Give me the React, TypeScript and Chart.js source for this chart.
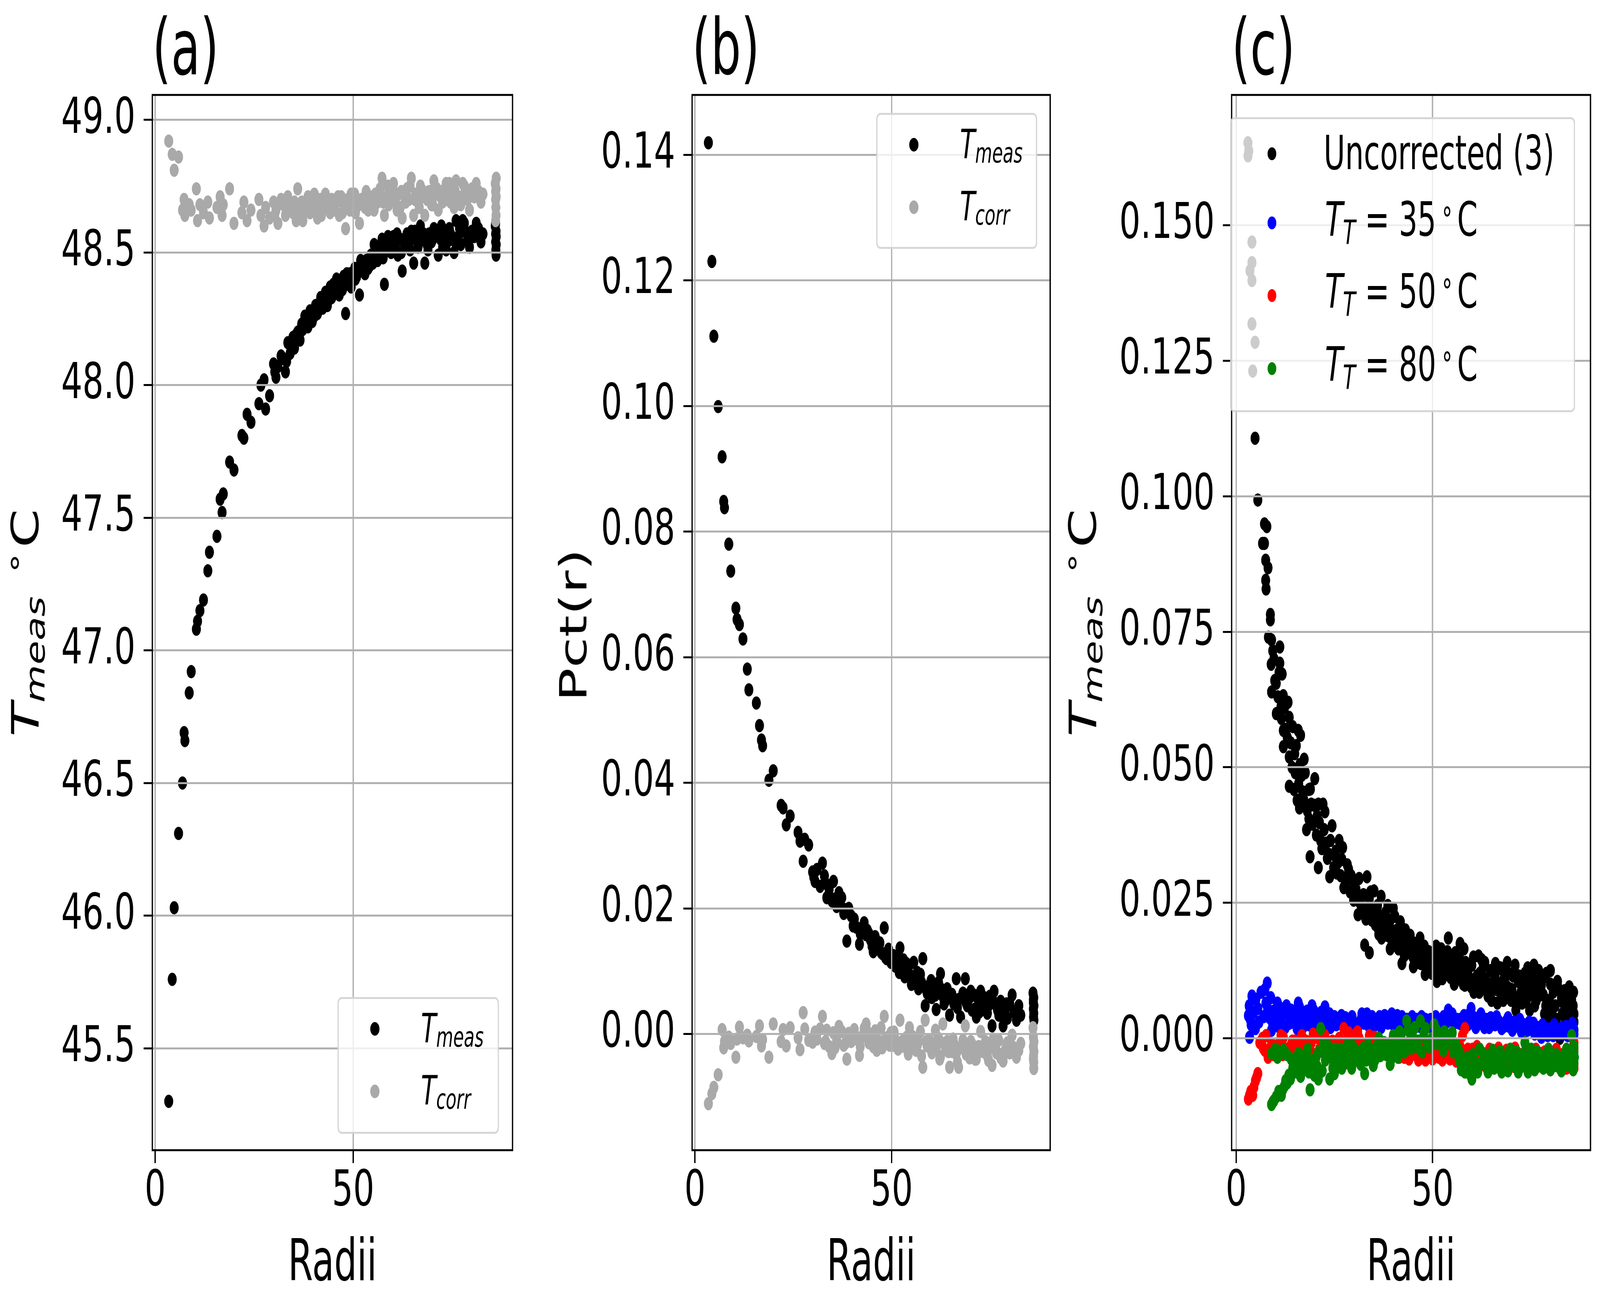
import React, { useEffect, useRef } from "react";
import { Chart, registerables } from "chart.js";

Chart.register(...registerables);

const FONT = "'DejaVu Sans', sans-serif";

// ---------------- tick values ----------------
const xTicks = [0, 50];
const aYTicks = [45.5, 46.0, 46.5, 47.0, 47.5, 48.0, 48.5, 49.0];
const bYTicks = [0, 0.02, 0.04, 0.06, 0.08, 0.1, 0.12, 0.14];
const cYTicks = [0, 0.025, 0.05, 0.075, 0.1, 0.125, 0.15];

// ---------------- panels (a) & (b): shared radii ----------------
const radii = [
  3.42, 4.3, 4.8, 5.9, 6.9, 7.3, 7.5, 8.6, 9.1, 10.4,
  10.7, 11.3, 12.2, 13.3, 13.7, 15.6, 16.4, 16.9, 17.2, 18.8,
  19.9, 21.9, 22.4, 23.2, 24.2, 26.2, 26.7, 27.5, 27.9, 28.9,
  29.9, 30.5, 31.0, 32.4, 32.9, 33.5, 34.1, 34.8, 35.2, 36.0,
  36.6, 37.3, 37.8, 38.6, 39.1, 39.7, 40.5, 41.0, 41.8, 42.3,
  43.0, 43.5, 44.2, 44.6, 45.3, 45.8, 46.5, 47.0, 47.6, 48.1,
  48.7, 49.2, 49.8, 50.4, 50.9, 51.6, 52.1, 52.7, 53.3, 53.8,
  54.5, 55.0, 55.6, 56.2, 56.8, 57.3, 57.9, 58.5, 59.0, 59.6,
  60.2, 60.7, 61.3, 61.9, 62.4, 63.0, 63.6, 64.1, 64.7, 65.3,
  65.8, 66.4, 67.0, 67.5, 68.1, 68.7, 69.2, 69.8, 70.4, 70.9,
  71.5, 72.1, 72.6, 73.2, 73.8, 74.3, 74.9, 75.5, 76.0, 76.6,
  77.2, 77.7, 78.3, 78.9, 79.4, 80.0, 80.6, 81.1, 81.7, 82.3,
  82.8, 85.9, 86.0, 86.0, 86.05, 86.1, 86.1, 86.14, 86.14, 86.0,
  30.2, 31.8, 33.2, 35.6, 37.0, 38.2, 40.2, 42.0, 43.8, 45.0,
  46.2, 47.3, 48.4, 49.5, 50.6, 51.9, 53.0, 54.2, 55.3, 56.5,
  57.6, 58.8, 60.0, 61.1, 62.2, 63.3, 64.4, 65.6, 66.7, 67.8,
  68.9, 70.1, 71.2, 72.3, 73.5, 74.6, 75.8, 76.9, 78.1, 79.2,
];

const aMeas = [
  45.30, 45.76, 46.03, 46.31, 46.50, 46.69, 46.66, 46.84, 46.92, 47.08,
  47.11, 47.15, 47.19, 47.30, 47.37, 47.43, 47.57, 47.52, 47.59, 47.71,
  47.68, 47.81, 47.80, 47.89, 47.86, 47.93, 48.00, 48.02, 47.91, 47.96,
  48.08, 48.03, 48.07, 48.10, 48.05, 48.16, 48.12, 48.18, 48.14, 48.20,
  48.17, 48.21, 48.26, 48.22, 48.28, 48.24, 48.30, 48.27, 48.33, 48.29,
  48.35, 48.30, 48.37, 48.33, 48.36, 48.40, 48.34, 48.39, 48.41, 48.27,
  48.38, 48.42, 48.40, 48.44, 48.41, 48.34, 48.45, 48.43, 48.47, 48.44,
  48.49, 48.46, 48.50, 48.47, 48.52, 48.55, 48.38, 48.51, 48.54, 48.50,
  48.56, 48.53, 48.49, 48.55, 48.43, 48.52, 48.57, 48.54, 48.58, 48.46,
  48.55, 48.52, 48.60, 48.56, 48.46, 48.53, 48.57, 48.54, 48.59, 48.58,
  48.49, 48.55, 48.52, 48.57, 48.54, 48.59, 48.55, 48.50, 48.62, 48.56,
  48.53, 48.62, 48.58, 48.55, 48.52, 48.58, 48.56, 48.61, 48.59, 48.54,
  48.57, 48.60, 48.57, 48.54, 48.51, 48.58, 48.49, 48.56, 48.53, 48.61,
  48.05, 48.11, 48.09, 48.19, 48.23, 48.25, 48.26, 48.31, 48.32, 48.38,
  48.37, 48.36, 48.42, 48.37, 48.40, 48.47, 48.42, 48.45, 48.53, 48.50,
  48.48, 48.56, 48.52, 48.57, 48.50, 48.55, 48.51, 48.58, 48.54, 48.57,
  48.51, 48.55, 48.58, 48.60, 48.51, 48.57, 48.54, 48.59, 48.61, 48.56,
];

const aCorr = [
  48.92, 48.87, 48.81, 48.86, 48.66, 48.70, 48.64, 48.68, 48.66, 48.74,
  48.62, 48.68, 48.65, 48.69, 48.63, 48.67, 48.71, 48.64, 48.68, 48.74,
  48.61, 48.65, 48.69, 48.62, 48.66, 48.70, 48.64, 48.60, 48.67, 48.63,
  48.69, 48.66, 48.61, 48.68, 48.64, 48.71, 48.67, 48.65, 48.69, 48.74,
  48.66, 48.62, 48.68, 48.71, 48.65, 48.69, 48.67, 48.63, 48.70, 48.66,
  48.72, 48.68, 48.65, 48.70, 48.67, 48.69, 48.64, 48.71, 48.68, 48.59,
  48.70, 48.66, 48.69, 48.72, 48.67, 48.61, 48.70, 48.68, 48.73, 48.66,
  48.70, 48.67, 48.72, 48.69, 48.74, 48.78, 48.64, 48.71, 48.68, 48.73,
  48.76, 48.69, 48.72, 48.67, 48.63, 48.71, 48.74, 48.70, 48.78, 48.64,
  48.72, 48.69, 48.75, 48.71, 48.64, 48.70, 48.73, 48.68, 48.77, 48.72,
  48.66, 48.71, 48.69, 48.74, 48.70, 48.76, 48.72, 48.67, 48.77, 48.71,
  48.68, 48.76, 48.73, 48.70, 48.66, 48.74, 48.71, 48.76, 48.73, 48.69,
  48.72, 48.76, 48.73, 48.70, 48.67, 48.74, 48.64, 48.71, 48.78, 48.62,
  48.64, 48.70, 48.66, 48.62, 48.69, 48.66, 48.72, 48.64, 48.69, 48.66,
  48.71, 48.65, 48.68, 48.72, 48.65, 48.69, 48.67, 48.71, 48.66, 48.72,
  48.69, 48.75, 48.70, 48.66, 48.73, 48.69, 48.75, 48.70, 48.67, 48.73,
  48.70, 48.68, 48.74, 48.71, 48.76, 48.69, 48.73, 48.70, 48.75, 48.72,
];

const bMeas = [
  0.1419, 0.1230, 0.1111, 0.0999, 0.0919, 0.0848, 0.0838, 0.0780, 0.0737, 0.0678,
  0.0660, 0.0652, 0.0629, 0.0581, 0.0548, 0.0527, 0.0491, 0.0468, 0.0459, 0.0404,
  0.0419, 0.0364, 0.0360, 0.0333, 0.0347, 0.0321, 0.0307, 0.0275, 0.0310, 0.0301,
  0.0258, 0.0243, 0.0262, 0.0272, 0.0252, 0.0217, 0.0230, 0.0212, 0.0243, 0.0203,
  0.0225, 0.0217, 0.0192, 0.0148, 0.0200, 0.0188, 0.0183, 0.0170, 0.0143, 0.0168,
  0.0177, 0.0158, 0.0160, 0.0150, 0.0131, 0.0155, 0.0137, 0.0145, 0.0128, 0.0169,
  0.0120, 0.0135, 0.0114, 0.0125, 0.0108, 0.0118, 0.0137, 0.0100, 0.0091, 0.0112,
  0.0095, 0.0079, 0.0114, 0.0088, 0.0072, 0.0095, 0.0120, 0.0045, 0.0065, 0.0078,
  0.0058, 0.0068, 0.0039, 0.0082, 0.0096, 0.0060, 0.0052, 0.0072, 0.0030, 0.0063,
  0.0048, 0.0088, 0.0055, 0.0027, 0.0065, 0.0088, 0.0045, 0.0058, 0.0038, 0.0062,
  0.0027, 0.0050, 0.0068, 0.0042, 0.0055, 0.0033, 0.0060, 0.0013, 0.0068, 0.0045,
  0.0030, 0.0052, 0.0013, 0.0040, 0.0025, 0.0048, 0.0062, 0.0035, 0.0022, 0.0045,
  0.0030, 0.0065, 0.0050, 0.0040, 0.0027, 0.0058, 0.0033, 0.0045, 0.0022, 0.0055,
  0.0250, 0.0235, 0.0240, 0.0215, 0.0205, 0.0198, 0.0172, 0.0160, 0.0165, 0.0140,
  0.0148, 0.0130, 0.0122, 0.0128, 0.0112, 0.0098, 0.0118, 0.0105, 0.0088, 0.0098,
  0.0082, 0.0070, 0.0085, 0.0062, 0.0075, 0.0048, 0.0065, 0.0055, 0.0042, 0.0058,
  0.0050, 0.0068, 0.0040, 0.0035, 0.0058, 0.0045, 0.0052, 0.0038, 0.0030, 0.0048,
];

const bCorr = [
  -0.0111, -0.0095, -0.0085, -0.0065, 0.0007, -0.0022, -0.0012, -0.0005, -0.0015, -0.0037,
  -0.0008, 0.0011, -0.0006, -0.0002, -0.0011, -0.0004, 0.0013, -0.0019, -0.0009, -0.0037,
  0.0016, -0.0012, 0.0007, -0.0019, 0.0010, -0.0006, -0.0025, 0.0034, 0.0008, -0.0010,
  -0.0013, 0.0003, -0.0008, 0.0028, -0.0015, 0.0006, -0.0020, -0.0031, 0.0002, -0.0010,
  0.0012, 0.0004, -0.0018, -0.0040, 0.0001, -0.0012, 0.0007, -0.0008, -0.0034, -0.0005,
  0.0009, 0.0016, -0.0014, -0.0003, -0.0020, 0.0005, -0.0010, -0.0016, -0.0022, 0.0028,
  -0.0006, -0.0013, 0.0002, -0.0018, -0.0009, -0.0024, 0.0022, -0.0012, -0.0020, -0.0005,
  0.0010, -0.0017, -0.0008, -0.0026, -0.0012, 0.0004, -0.0053, 0.0022, -0.0019, -0.0010,
  -0.0030, -0.0015, -0.0024, -0.0007, -0.0036, 0.0016, -0.0020, -0.0012, -0.0053, -0.0028,
  -0.0015, -0.0032, -0.0053, -0.0022, -0.0010, 0.0013, -0.0025, -0.0038, -0.0016, -0.0030,
  -0.0040, -0.0020, 0.0004, -0.0028, -0.0012, -0.0035, -0.0022, -0.0050, -0.0018, -0.0030,
  -0.0010, -0.0038, -0.0043, -0.0025, -0.0014, -0.0030, -0.0002, -0.0022, -0.0037, -0.0026,
  -0.0015, 0.0010, -0.0005, -0.0020, -0.0035, -0.0045, -0.0055, -0.0028, -0.0012, -0.0040,
  -0.0005, 0.0008, -0.0012, -0.0022, 0.0006, -0.0015, -0.0006, -0.0020, 0.0004, -0.0012,
  -0.0026, 0.0010, -0.0008, -0.0018, 0.0003, -0.0022, -0.0010, -0.0032, -0.0004, -0.0018,
  -0.0035, -0.0012, -0.0025, 0.0006, -0.0040, -0.0015, -0.0028, -0.0008, -0.0045, -0.0020,
  -0.0032, -0.0012, -0.0040, -0.0025, -0.0018, -0.0042, -0.0008, -0.0030, -0.0036, -0.0020,
];

// ---------------- panel (c): [radius, value] pairs ----------------
const cUncorrected: number[][] = [
  [2.98, .1652], [3.2, .1637], [3.0, .1628], [4.0, .1469], [4.0, .1431], [3.5, .1416], [4.0, .1398], [4.0, .1318], [4.8, .1284], [4.2, .1231],
  [4.8, .1107], [5.5, .0993], [7.2, .0949], [7.8, .0944], [7.2, .0913], [6.7, .0913], [7.5, .0882], [8.1, .0868], [7.5, .0845], [7.6, .0829],
  [8.7, .0782], [8.7, .0772], [9.0, .0735], [9.3, .0715], [11.1, .0722], [11.1, .0692], [11.7, .0672], [9.0, .0639], [10.2, .0655], [12.0, .0632],
  [11.4, .0612], [10.2, .0599], [12.0, .0568], [12.0, .0538], [13.5, .0592], [15.8, .0568], [16.4, .0559], [13.5, .0519], [14.9, .0525], [17.3, .0515],
  [16.7, .0485], [13.5, .0465], [14.7, .0459], [15.5, .0439], [16.1, .0425], [18.5, .0459], [19.1, .0432], [20.0, .0479], [20.9, .0432], [22.1, .0432],
  [22.6, .0418], [18.5, .0405], [17.9, .0385], [21.2, .0398], [21.5, .0365], [24.4, .0392], [26.2, .0365], [27.1, .0352], [25.0, .0338], [23.2, .0332],
  [18.8, .0335], [20.9, .0315], [23.8, .0298], [25.6, .0305], [28.6, .0312], [27.4, .0278], [29.7, .0292], [30.9, .0265], [33.3, .0298], [33.9, .0258],
  [35.1, .0272], [36.9, .0262], [32.1, .0232], [34.5, .0218], [38.0, .0232], [39.2, .0218], [40.4, .0225], [36.3, .0192], [32.7, .0172], [33.9, .0158],
  [40.4, .0198], [42.2, .0192], [43.4, .0185], [45.1, .0172], [47.5, .0165], [42.8, .0152], [39.2, .0165], [48.7, .0152], [51.1, .0145], [54.0, .0185],
  [52.2, .0165], [55.8, .0158], [57.0, .0145], [56.4, .0132], [58.8, .0125], [61.7, .0152], [62.9, .0132], [65.9, .0112], [68.8, .0125], [71.8, .0105],
  [74.7, .0112], [75.9, .0118], [77.7, .0098], [80.7, .0085], [83.6, .0088], [85.4, .0072], [86.0, .0045], [84.2, .0032], [85.4, .0018], [82.4, .0000],
  [79.5, .0032], [77.1, .0018], [74.7, .0052], [71.2, .0052], [68.8, .0078], [66.5, .0065], [64.1, .0078], [60.5, .0085], [58.2, .0098], [54.6, .0112],
  [51.1, .0105], [48.1, .0118], [45.1, .0132], [42.2, .0138], [26.0, .0325], [28.0, .0295], [29.0, .0270], [30.2, .0285], [31.5, .0250], [31.0, .0228],
  [34.0, .0240], [35.8, .0235], [37.5, .0210], [38.6, .0245], [36.0, .0205], [37.0, .0185], [41.0, .0178], [41.5, .0205], [43.0, .0165], [44.0, .0158],
  [44.6, .0180], [46.0, .0150], [46.5, .0168], [47.0, .0138], [48.0, .0135], [49.5, .0140], [50.0, .0128], [50.5, .0160], [52.8, .0135], [53.5, .0120],
  [53.0, .0150], [55.2, .0128], [56.0, .0108], [57.5, .0120], [58.0, .0165], [59.5, .0110], [60.0, .0135], [61.0, .0100], [62.0, .0120], [63.0, .0092],
  [63.5, .0110], [64.8, .0125], [65.2, .0090], [66.0, .0138], [67.0, .0100], [67.5, .0080], [68.2, .0110], [69.5, .0092], [70.0, .0070], [70.5, .0115],
  [72.5, .0085], [73.0, .0100], [73.8, .0068], [75.5, .0085], [76.4, .0070], [77.0, .0125], [78.2, .0080], [78.8, .0060], [79.0, .0120], [80.0, .0100],
  [81.2, .0060], [81.8, .0105], [82.8, .0075], [83.0, .0045], [84.0, .0060], [84.8, .0095], [85.8, .0060], [86.0, .0030], [85.6, .0005], [71.0, .0135],
  [73.5, .0120], [66.8, .0128], [69.0, .0140], [62.5, .0145], [57.0, .0175], [75.8, .0135], [80.0, .0125],
  [8.2, .0740], [8.9, .0690], [9.6, .0700], [9.8, .0660], [10.6, .0630], [10.9, .0675], [11.5, .0590], [12.3, .0610], [12.6, .0570], [13.0, .0555],
  [13.2, .0620], [13.9, .0545], [14.2, .0500], [14.4, .0575], [15.0, .0490], [15.3, .0540], [15.9, .0470], [16.2, .0505], [16.9, .0455], [17.2, .0440],
  [17.6, .0490], [18.1, .0420], [18.9, .0460], [19.4, .0395], [19.8, .0430], [20.4, .0375], [20.6, .0410], [21.8, .0350], [22.4, .0385], [22.9, .0360],
  [23.5, .0340], [24.0, .0365], [24.8, .0315], [25.3, .0345], [26.6, .0300], [26.9, .0330], [27.8, .0285], [28.3, .0320], [29.3, .0300], [29.9, .0255],
  [30.5, .0275], [31.3, .0295], [31.9, .0240], [32.4, .0265], [33.0, .0220], [33.6, .0245], [34.2, .0270], [34.8, .0230], [35.4, .0210], [36.0, .0245],
  [36.6, .0225], [37.2, .0200], [37.8, .0225], [38.4, .0190], [39.0, .0205], [39.6, .0180], [40.0, .0240], [40.8, .0185], [41.3, .0165], [41.8, .0215],
  [42.5, .0175], [43.1, .0200], [43.8, .0160], [44.3, .0190], [45.0, .0150], [45.5, .0175], [46.2, .0140], [46.8, .0185], [47.3, .0150], [47.9, .0170],
  [48.4, .0130], [49.0, .0160], [49.8, .0120], [50.3, .0145], [50.9, .0170], [51.5, .0125], [52.0, .0150], [52.5, .0110], [53.2, .0140], [53.8, .0160],
  [54.3, .0125], [55.0, .0145], [55.5, .0100], [56.3, .0150], [56.8, .0120], [57.8, .0100], [58.4, .0140], [59.0, .0120], [59.8, .0095], [60.4, .0150],
  [61.3, .0115], [61.9, .0085], [62.7, .0105], [63.3, .0140], [64.4, .0100], [65.0, .0070], [65.6, .0120], [66.3, .0090], [67.3, .0130], [68.0, .0070],
  [68.6, .0100], [69.3, .0120], [70.2, .0090], [71.5, .0075], [72.0, .0115], [72.8, .0065], [73.3, .0090], [74.2, .0130], [74.9, .0080], [75.2, .0100],
  [76.0, .0060], [76.8, .0100], [77.4, .0080], [78.0, .0110], [78.5, .0045], [79.7, .0070], [80.4, .0050], [81.0, .0090], [81.5, .0035], [82.2, .0090],
  [83.3, .0065], [83.8, .0030], [84.5, .0075], [85.1, .0045], [85.9, .0085], [86.0, .0015],
];

const c35: number[][] = [
  [3.1, .0042], [3.4, .0002], [4.0, .0078], [4.9, .0018], [3.6, .0035], [5.5, .0055], [7.55, .0065], [7.9, .0102], [8.5, .0038], [9.0, .0015],
  [9.5, .0050], [11.4, .0055], [11.4, .0032], [12.5, .0020], [13.0, .0045], [14.5, .0030], [15.5, .0018], [16.1, .0058], [16.7, .0032], [17.5, .0045],
  [18.5, .0025], [19.7, .0052], [20.3, .0025], [21.0, .0040], [22.6, .0058], [23.2, .0032], [24.0, .0020], [25.0, .0040], [26.2, .0035], [27.4, .0022],
  [28.0, .0030], [29.1, .0032], [30.0, .0025], [30.9, .0018], [31.8, .0035], [32.5, .0028], [33.3, .0045], [34.2, .0030], [35.0, .0022], [35.7, .0032],
  [36.5, .0040], [37.3, .0028], [38.0, .0035], [39.2, .0038], [40.0, .0025], [41.0, .0042], [41.8, .0030], [42.6, .0020], [43.5, .0035], [44.3, .0028],
  [45.1, .0028], [46.0, .0035], [46.8, .0022], [47.6, .0030], [48.7, .0028], [49.5, .0035], [50.3, .0020], [51.2, .0030], [52.2, .0032], [53.0, .0025],
  [54.0, .0052], [54.6, .0040], [55.5, .0028], [56.2, .0035], [57.0, .0035], [57.8, .0022], [58.6, .0030], [59.4, .0045], [60.2, .0030], [61.0, .0020],
  [61.7, .0038], [62.9, .0028], [63.6, .0035], [64.4, .0020], [65.2, .0030], [65.9, .0025], [66.8, .0032], [67.6, .0018], [68.8, .0032], [69.5, .0022],
  [70.3, .0015], [71.0, .0028], [71.8, .0022], [72.6, .0012], [73.4, .0025], [74.2, .0015], [75.3, .0018], [76.0, .0008], [76.8, .0020], [77.7, .0002],
  [78.5, .0012], [79.3, .0005], [80.0, .0018], [80.7, .0005], [81.5, .0012], [82.3, .0008], [83.0, .0020], [83.6, .0015], [84.4, .0005], [85.2, .0012],
  [85.9, .0018], [86.0, .0008],
  [3.3, .0060], [3.8, .0025], [4.4, .0048], [5.0, .0072], [5.8, .0030], [6.3, .0085], [7.0, .0040], [7.3, .0090], [8.0, .0055], [8.8, .0075],
  [9.2, .0030], [10.0, .0045], [10.5, .0065], [11.0, .0020], [12.0, .0048], [12.8, .0060], [13.6, .0028], [14.0, .0052], [15.0, .0042], [15.8, .0065],
  [16.5, .0048], [17.0, .0020], [18.0, .0050], [19.0, .0035], [19.3, .0060], [20.8, .0030], [21.6, .0048], [22.0, .0025], [23.8, .0045], [24.5, .0032],
  [25.5, .0025], [26.8, .0042], [27.8, .0038], [28.6, .0020], [29.5, .0040], [31.2, .0028], [32.0, .0045], [33.8, .0022], [34.6, .0040], [36.0, .0030],
  [36.9, .0020], [37.8, .0042], [38.6, .0028], [39.6, .0045], [40.5, .0032], [42.2, .0040], [43.0, .0028], [44.8, .0040], [45.6, .0022], [47.2, .0040],
  [48.2, .0035], [49.0, .0022], [50.8, .0040], [51.8, .0025], [52.8, .0040], [53.6, .0030], [55.0, .0045], [56.8, .0028], [58.0, .0042], [59.0, .0025],
  [59.8, .0055], [60.6, .0038], [62.3, .0045], [63.2, .0020], [64.8, .0038], [66.3, .0040], [67.2, .0028], [68.2, .0022], [69.2, .0038], [70.7, .0030],
  [72.2, .0035], [73.0, .0020], [74.6, .0030], [75.7, .0028], [77.2, .0012], [78.0, .0025], [79.0, .0018], [80.3, .0010], [81.0, .0025], [82.0, .0015],
  [83.3, .0008], [84.0, .0022], [84.8, .0010], [85.6, .0028],
];

const c50: number[][] = [
  [3.1, -.0112], [3.7, -.0098], [4.2, -.0105], [4.9, -.0078], [5.5, -.0065], [6.7, .0000], [7.25, -.0022], [8.1, -.0035], [9.0, -.0010], [10.2, -.0028],
  [11.4, .0005], [12.5, -.0020], [13.8, -.0015], [15.0, -.0005], [16.7, .0005], [17.3, -.0018], [18.2, -.0030], [19.1, -.0008], [20.5, .0002], [21.2, -.0020],
  [22.1, -.0015], [23.0, -.0005], [24.0, -.0025], [25.0, -.0010], [26.2, .0000], [27.4, .0018], [28.2, -.0012], [29.0, -.0020], [30.0, .0005], [30.9, .0012],
  [31.8, -.0008], [32.8, -.0018], [33.9, .0005], [34.8, -.0005], [35.7, -.0015], [36.6, -.0025], [37.5, -.0008], [38.4, -.0018], [39.2, -.0022], [40.2, -.0010],
  [41.0, -.0028], [41.9, -.0015], [42.8, -.0035], [43.6, -.0020], [44.4, -.0025], [45.1, -.0015], [46.0, -.0030], [46.8, -.0020], [47.8, -.0010], [48.7, -.0028],
  [49.6, -.0018], [50.4, -.0030], [51.1, -.0022], [52.0, -.0012], [52.9, -.0028], [53.6, -.0018], [54.0, -.0028], [54.9, -.0010], [55.8, -.0025], [56.5, -.0035],
  [57.0, -.0015], [57.6, .0005], [58.2, .0018], [59.0, -.0020], [59.8, -.0028], [60.5, -.0035], [61.3, -.0015], [62.1, -.0025], [62.9, -.0042], [63.7, -.0030],
  [64.5, -.0020], [65.2, -.0038], [65.9, -.0032], [66.8, -.0018], [67.6, -.0028], [68.8, -.0022], [69.6, -.0040], [70.4, -.0030], [71.0, -.0018], [71.8, -.0028],
  [72.7, -.0038], [73.5, -.0025], [74.7, -.0048], [75.5, -.0030], [76.3, -.0020], [77.0, -.0040], [77.7, -.0035], [78.5, -.0025], [79.3, -.0045], [80.0, -.0030],
  [80.7, -.0035], [81.5, -.0020], [82.4, -.0040], [83.0, -.0030], [83.6, -.0042], [84.5, -.0025], [85.3, -.0048], [86.0, -.0055], [86.0, -.0008], [86.0, -.0032],
  [86.0, -.0020],
  [3.4, -.0105], [4.5, -.0090], [5.2, -.0072], [6.0, -.0008], [6.9, -.0018], [7.6, .0005], [8.5, -.0025], [9.5, -.0030], [10.7, -.0012], [11.8, -.0030],
  [12.0, .0002], [13.0, -.0025], [14.3, -.0005], [15.5, -.0025], [16.0, -.0012], [17.8, -.0005], [18.7, -.0022], [19.6, .0008], [20.0, -.0030], [21.7, -.0008],
  [22.6, .0005], [23.5, -.0022], [24.5, -.0005], [25.6, -.0028], [26.8, -.0015], [27.9, -.0005], [28.7, .0010], [29.5, -.0030], [30.5, -.0018], [31.3, .0000],
  [32.3, -.0028], [33.3, -.0010], [34.3, -.0028], [35.2, .0002], [36.1, -.0008], [37.0, -.0030], [38.0, -.0012], [38.8, -.0028], [39.7, -.0005], [40.6, -.0020],
  [41.5, -.0035], [42.3, -.0022], [43.2, -.0010], [44.0, -.0038], [44.8, -.0030], [45.6, -.0022], [46.4, -.0040], [47.3, -.0028], [48.2, -.0040], [49.1, -.0025],
  [50.0, -.0038], [50.8, -.0012], [51.6, -.0035], [52.5, -.0040], [53.2, -.0008], [54.4, -.0038], [55.3, -.0020], [56.0, -.0042], [57.3, -.0040], [58.6, -.0030],
  [59.4, -.0045], [60.2, -.0020], [60.9, -.0048], [61.7, -.0038], [62.5, -.0030], [63.3, -.0050], [64.1, -.0040], [64.9, -.0028], [65.6, -.0048], [66.4, -.0040],
  [67.2, -.0045], [68.0, -.0035], [68.4, -.0050], [69.2, -.0030], [70.0, -.0045], [70.8, -.0052], [71.4, -.0040], [72.2, -.0048], [73.1, -.0035], [73.9, -.0052],
  [74.3, -.0030], [75.1, -.0055], [75.9, -.0045], [76.7, -.0052], [77.4, -.0028], [78.1, -.0050], [78.9, -.0040], [79.7, -.0055], [80.4, -.0042], [81.1, -.0050],
  [81.9, -.0035], [82.7, -.0052], [83.3, -.0045], [84.1, -.0055], [84.9, -.0040], [85.6, -.0052], [86.0, -.0045],
];

const c80: number[][] = [
  [9.0, -.0122], [9.6, -.0115], [10.8, -.0098], [11.5, -.0105], [12.3, -.0088], [13.0, -.0082], [13.8, -.0075], [14.4, -.0055], [9.0, -.0028], [10.5, -.0035],
  [12.0, -.0022], [15.5, -.0035], [16.0, -.0065], [16.7, -.0048], [17.5, -.0040], [18.8, -.0095], [18.5, -.0062], [19.5, -.0050], [20.9, -.0075], [20.3, -.0035],
  [21.5, .0018], [22.3, -.0010], [23.2, -.0028], [23.8, -.0075], [24.6, -.0055], [25.6, -.0048], [26.5, -.0020], [27.4, -.0035], [28.5, -.0010], [29.7, -.0015],
  [30.5, -.0040], [31.3, -.0025], [32.1, -.0035], [32.7, -.0065], [33.5, -.0012], [34.5, -.0022], [35.3, -.0040], [36.3, .0000], [37.2, -.0018], [38.2, -.0030],
  [39.2, -.0048], [39.2, -.0015], [40.4, -.0008], [41.6, .0012], [42.5, -.0010], [43.4, .0032], [44.2, -.0005], [45.1, .0000], [46.0, -.0015], [46.9, .0032],
  [47.8, .0010], [48.7, -.0008], [49.9, .0000], [51.0, .0015], [52.2, .0000], [53.4, -.0012], [54.6, .0005], [55.8, -.0010], [57.0, -.0028], [57.6, -.0045],
  [58.2, -.0062], [59.0, -.0035], [60.0, -.0075], [60.5, -.0055], [61.1, -.0048], [62.0, -.0020], [62.9, -.0028], [63.8, -.0055], [64.5, -.0040], [65.3, -.0022],
  [66.2, -.0048], [67.0, -.0030], [67.6, -.0062], [68.8, -.0035], [69.8, -.0020], [70.6, -.0050], [71.8, -.0062], [72.6, -.0040], [73.5, -.0008], [74.7, -.0035],
  [75.6, -.0050], [76.5, -.0025], [77.7, -.0048], [78.6, -.0035], [79.5, -.0020], [80.7, -.0042], [81.6, -.0030], [82.4, -.0055], [83.3, -.0040], [84.1, -.0020],
  [84.8, -.0028], [85.4, .0005], [86.0, -.0048], [86.0, -.0015], [86.1, -.0035],
  [9.3, -.0118], [10.2, -.0108], [10.0, -.0020], [11.0, -.0030], [11.8, -.0095], [12.6, -.0078], [12.9, -.0030], [13.4, -.0068], [14.0, -.0038], [14.8, -.0062],
  [15.2, -.0045], [15.9, -.0028], [16.4, -.0070], [17.0, -.0032], [17.9, -.0058], [18.2, -.0020], [19.1, -.0042], [19.9, -.0068], [20.6, -.0052], [21.0, -.0025],
  [21.9, -.0060], [22.7, -.0040], [23.5, -.0015], [24.2, -.0035], [25.0, -.0065], [25.3, -.0020], [26.0, -.0042], [26.9, -.0055], [27.8, -.0022], [28.2, -.0045],
  [29.0, -.0030], [29.4, -.0055], [30.1, -.0020], [30.8, -.0032], [31.7, -.0048], [32.4, -.0018], [33.1, -.0040], [33.9, -.0028], [34.9, -.0050], [35.8, -.0015],
  [36.7, -.0032], [37.7, -.0008], [38.6, -.0022], [39.7, -.0035], [40.0, .0005], [40.9, -.0020], [41.2, -.0035], [42.0, .0008], [42.9, -.0025], [43.8, .0015],
  [44.6, -.0018], [45.5, .0020], [46.4, -.0005], [47.3, -.0025], [48.2, .0018], [49.2, -.0015], [50.4, .0025], [50.8, -.0010], [51.6, .0008], [52.7, -.0022],
  [53.0, .0012], [53.9, -.0005], [55.0, .0010], [55.3, -.0025], [56.3, -.0018], [56.8, -.0040], [57.3, -.0058], [58.6, -.0048], [59.4, -.0065], [60.3, -.0030],
  [61.5, -.0062], [62.4, -.0045], [63.3, -.0035], [64.1, -.0062], [64.9, -.0030], [65.7, -.0055], [66.6, -.0040], [67.3, -.0025], [68.2, -.0050], [69.2, -.0060],
  [70.2, -.0035], [71.0, -.0045], [71.4, -.0025], [72.2, -.0055], [73.0, -.0030], [73.9, -.0050], [74.3, -.0062], [75.1, -.0020], [76.0, -.0058], [76.9, -.0040],
  [77.3, -.0030], [78.2, -.0055], [79.0, -.0045], [80.0, -.0058], [80.3, -.0028], [81.2, -.0050], [82.0, -.0040], [82.8, -.0060], [83.7, -.0030], [84.5, -.0050],
  [85.2, -.0038], [85.8, -.0058], [86.0, -.0025],
];

// ---------------- styling / layout ----------------
const BLACK = "#000000";
const GRAY = "#a9a9a9";
const BLUE = "#0000ff";
const RED = "#ff0000";
const GREEN = "#008000";
const GRID = "#b0b0b0";
const PT = 17;
const SX = 0.95;
const SY = 1.04;
const DESIGN_W = 6050;
const DESIGN_H = 3330;

const framePlugin = {
  id: "frame",
  afterDraw(chart: any) {
    const { ctx, chartArea } = chart;
    const { left, top, right, bottom } = chartArea;
    ctx.save();
    ctx.strokeStyle = "#000";
    ctx.lineWidth = 5;
    ctx.strokeRect(left, top, right - left, bottom - top);
    ctx.restore();
  },
};

function scatterSet(label: string, pts: { x: number; y: number }[], color: string, order: number) {
  return {
    label,
    data: pts,
    backgroundColor: color,
    borderColor: color,
    pointBackgroundColor: color,
    pointBorderWidth: 0,
    pointRadius: PT,
    pointHoverRadius: PT,
    showLine: false,
    order,
  };
}

function zipPts(xs: number[], ys: number[]) {
  return xs.map((x, i) => ({ x, y: ys[i] }));
}
function pairPts(p: number[][]) {
  return p.map(([x, y]) => ({ x, y }));
}

function makeConfig(o: {
  datasets: any[];
  xMin: number;
  xMax: number;
  yMin: number;
  yMax: number;
  yTicks: number[];
  yDigits: number;
  yAxisWidth: number;
  padRight: number;
}) {
  const gridOpts = {
    color: GRID,
    lineWidth: 5,
    z: 1,
    drawTicks: true,
    tickColor: "#000",
    tickLength: 33,
    tickWidth: 5,
  };
  return {
    type: "scatter",
    data: { datasets: o.datasets },
    options: {
      animation: false,
      responsive: false,
      devicePixelRatio: 1,
      events: [],
      layout: { padding: { left: 0, right: o.padRight, top: 243, bottom: 0 } },
      plugins: {
        legend: { display: false },
        tooltip: { enabled: false },
        title: { display: false },
      },
      scales: {
        x: {
          type: "linear",
          min: o.xMin,
          max: o.xMax,
          afterBuildTicks: (s: any) => {
            s.ticks = xTicks.map((v) => ({ value: v }));
          },
          afterFit: (s: any) => {
            s.height = 386;
          },
          grid: gridOpts,
          border: { display: false },
          ticks: {
            color: "#000",
            font: { family: FONT, size: 126 },
            padding: 0,
            maxRotation: 0,
            autoSkip: false,
            callback: (v: any) => String(v),
          },
        },
        y: {
          type: "linear",
          min: o.yMin,
          max: o.yMax,
          afterBuildTicks: (s: any) => {
            s.ticks = o.yTicks.map((v) => ({ value: v }));
          },
          afterFit: (s: any) => {
            s.width = o.yAxisWidth;
          },
          grid: gridOpts,
          border: { display: false },
          ticks: {
            color: "#000",
            font: { family: FONT, size: 126 },
            padding: 31,
            autoSkip: false,
            callback: (v: any) => Number(v).toFixed(o.yDigits),
          },
        },
      },
    },
    plugins: [framePlugin],
  };
}

// ---------------- text helpers ----------------
const HText = ({ x, baseline, size, children, width }: any) => {
  const top = baseline - 0.846 * size * SY;
  const centered = width !== undefined;
  return (
    <div
      style={{
        position: "absolute",
        left: x,
        top,
        width: centered ? width : undefined,
        textAlign: centered ? "center" : "left",
        fontSize: size,
        lineHeight: 1,
        whiteSpace: "nowrap",
        color: "#000",
        transform: `scale(${SX}, ${SY})`,
        transformOrigin: centered ? "center top" : "left top",
      }}
    >
      {children}
    </div>
  );
};

const VText = ({ baselineX, centerY, size, children }: any) => (
  <div
    style={{
      position: "absolute",
      left: baselineX - 0.346 * size,
      top: centerY,
      fontSize: size,
      lineHeight: 1,
      whiteSpace: "nowrap",
      color: "#000",
      transform: "translate(-50%, -50%) rotate(-90deg)",
    }}
  >
    {children}
  </div>
);

const Sub = ({ children, shift }: any) => (
  <span style={{ fontSize: "0.7em", fontStyle: "italic", position: "relative", top: `${shift}em` }}>{children}</span>
);

const Ring = ({ raise, ml = 0, mr = 0 }: any) => (
  <span style={{ fontSize: "0.7em", position: "relative", top: `${-raise}em`, marginLeft: ml, marginRight: mr }}>∘</span>
);

const Dot = ({ cx, cy, r, color }: any) => (
  <div
    style={{
      position: "absolute",
      left: cx - r,
      top: cy - r,
      width: 2 * r,
      height: 2 * r,
      borderRadius: "50%",
      background: color,
    }}
  />
);

const LegendFrame = ({ left, top, width, height }: any) => (
  <div
    style={{
      position: "absolute",
      left,
      top,
      width,
      height,
      boxSizing: "border-box",
      border: "5px solid rgba(204,204,204,0.8)",
      borderRadius: 16,
      background: "rgba(255,255,255,0.8)",
    }}
  />
);

const TLabel = ({ sub }: { sub: string }) => (
  <>
    <i>T</i>
    <Sub shift={0.14}>{sub}</Sub>
  </>
);

const TTLabel = ({ temp }: { temp: string }) => (
  <>
    <i>T</i>
    <Sub shift={0.245}>T</Sub> = {temp}
    <Ring raise={0.42} ml={18} mr={14} />C
  </>
);

const YTmeas = () => (
  <>
    <i>T</i>
    <Sub shift={0.23}>meas</Sub> <Ring raise={0.575} ml={8} mr={8} />C
  </>
);

// ---------------- component ----------------
export default function App() {
  const refA = useRef<HTMLCanvasElement>(null);
  const refB = useRef<HTMLCanvasElement>(null);
  const refC = useRef<HTMLCanvasElement>(null);

  // the photographed viewport may be narrower than the design size: fit the whole figure into it
  const vw = typeof window !== "undefined" && window.innerWidth ? window.innerWidth : DESIGN_W;
  const vh = typeof window !== "undefined" && window.innerHeight ? window.innerHeight : DESIGN_H;
  const fx = Math.min(1, vw / DESIGN_W);
  const fy = Math.min(1, vh / DESIGN_H);

  useEffect(() => {
    const charts: Chart[] = [];
    const cfgA = makeConfig({
      datasets: [
        scatterSet("Tmeas", zipPts(radii, aMeas), BLACK, 2),
        scatterSet("Tcorr", zipPts(radii, aCorr), GRAY, 1),
      ],
      xMin: -0.72,
      xMax: 90.27,
      yMin: 45.116,
      yMax: 49.094,
      yTicks: aYTicks,
      yDigits: 1,
      yAxisWidth: 576,
      padRight: 102,
    });
    const cfgB = makeConfig({
      datasets: [
        scatterSet("Tmeas", zipPts(radii, bMeas), BLACK, 2),
        scatterSet("Tcorr", zipPts(radii, bCorr), GRAY, 1),
      ],
      xMin: -0.72,
      xMax: 90.27,
      yMin: -0.0185,
      yMax: 0.14952,
      yTicks: bYTicks,
      yDigits: 2,
      yAxisWidth: 577,
      padRight: 119,
    });
    const cfgC = makeConfig({
      datasets: [
        scatterSet("Uncorrected (3)", pairPts(cUncorrected), BLACK, 4),
        scatterSet("TT = 35 C", pairPts(c35), BLUE, 3),
        scatterSet("TT = 50 C", pairPts(c50), RED, 2),
        scatterSet("TT = 80 C", pairPts(c80), GREEN, 1),
      ],
      xMin: -1.17,
      xMax: 90.2,
      yMin: -0.02063,
      yMax: 0.17403,
      yTicks: cYTicks,
      yDigits: 3,
      yAxisWidth: 567,
      padRight: 36,
    });
    if (refA.current) charts.push(new Chart(refA.current, cfgA as any));
    if (refB.current) charts.push(new Chart(refB.current, cfgB as any));
    if (refC.current) charts.push(new Chart(refC.current, cfgC as any));
    return () => charts.forEach((c) => c.destroy());
  }, []);

  return (
    <div
      style={{
        position: "absolute",
        left: 0,
        top: 0,
        width: DESIGN_W * fx,
        height: DESIGN_H * fy,
        overflow: "hidden",
        background: "#fff",
      }}
    >
      <div
        style={{
          position: "absolute",
          left: 0,
          top: 0,
          width: DESIGN_W,
          height: DESIGN_H,
          background: "#fff",
          fontFamily: FONT,
          transform: `scale(${fx}, ${fy})`,
          transformOrigin: "0 0",
        }}
      >
        <canvas ref={refA} width={2040} height={3330} style={{ position: "absolute", left: 0, top: 0 }} />
        <canvas ref={refB} width={2050} height={3330} style={{ position: "absolute", left: 2040, top: 0 }} />
        <canvas ref={refC} width={1960} height={3330} style={{ position: "absolute", left: 4090, top: 0 }} />

        {/* panel titles */}
        <HText x={576} baseline={191} size={190}>(a)</HText>
        <HText x={2617} baseline={191} size={190}>(b)</HText>
        <HText x={4657} baseline={191} size={190}>(c)</HText>

        {/* x axis titles */}
        <HText x={576} width={1362} baseline={3277} size={143}>Radii</HText>
        <HText x={2617} width={1354} baseline={3277} size={143}>Radii</HText>
        <HText x={4657} width={1357} baseline={3277} size={143}>Radii</HText>

        {/* y axis titles */}
        <VText baselineX={145} centerY={1594} size={143}><YTmeas /></VText>
        <VText baselineX={2217} centerY={1600} size={143}>Pct(r)</VText>
        <VText baselineX={4144} centerY={1594} size={143}><YTmeas /></VText>

        {/* legend (a) */}
        <LegendFrame left={1276} top={2552} width={611} height={350} />
        <Dot cx={1417} cy={2633} r={17.5} color={BLACK} />
        <Dot cx={1417} cy={2793} r={17.5} color={GRAY} />
        <HText x={1592} baseline={2668} size={99}><TLabel sub="meas" /></HText>
        <HText x={1592} baseline={2827} size={99}><TLabel sub="corr" /></HText>

        {/* legend (b) */}
        <LegendFrame left={3313} top={289} width={609} height={348} />
        <Dot cx={3455} cy={370} r={17.5} color={BLACK} />
        <Dot cx={3455} cy={530} r={17.5} color={GRAY} />
        <HText x={3630} baseline={405} size={99}><TLabel sub="meas" /></HText>
        <HText x={3630} baseline={564} size={99}><TLabel sub="corr" /></HText>

        {/* legend (c) */}
        <LegendFrame left={4651} top={300} width={1305} height={755} />
        <Dot cx={4809} cy={393} r={16.5} color={BLACK} />
        <Dot cx={4809} cy={570} r={16.5} color={BLUE} />
        <Dot cx={4809} cy={756} r={16.5} color={RED} />
        <Dot cx={4809} cy={943} r={16.5} color={GREEN} />
        <HText x={5005} baseline={433} size={117}>Uncorrected (3)</HText>
        <HText x={5010} baseline={603} size={117}><TTLabel temp="35" /></HText>
        <HText x={5010} baseline={787} size={117}><TTLabel temp="50" /></HText>
        <HText x={5010} baseline={974} size={117}><TTLabel temp="80" /></HText>
      </div>
    </div>
  );
}
